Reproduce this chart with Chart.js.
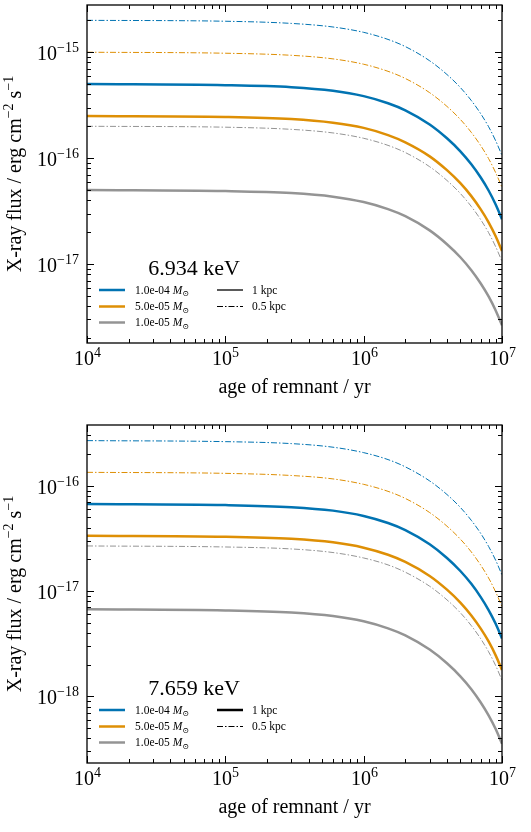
<!DOCTYPE html>
<html>
<head>
<meta charset="utf-8">
<script src="https://cdn.jsdelivr.net/npm/chart.js@4.4.0/dist/chart.umd.min.js"></script>
<style>
  body { margin: 0; background: #fff; }
  canvas { display: block; }
</style>
</head>
<body>
<canvas id="fluxTop" width="531" height="416"></canvas>
<canvas id="fluxBottom" width="531" height="416"></canvas>
<script>
// ages of the remnant (yr)
const ages = [1e4, 1e5, 3e5, 6e5, 1e6, 1.5e6, 2e6, 3e6, 4e6, 5e6, 6e6, 7e6, 8e6, 9e6, 1e7];
const massLabels = ['1.0e-04', '5.0e-05', '1.0e-05'];
const distLabels = ['1 kpc', '0.5 kpc'];
const massColors = ['#0173b2', '#de8f05', '#949494'];

// 6.934 keV line, flux in erg cm^-2 s^-1
const f6934_m1e4_1kpc  = [5.0e-16, 4.89e-16, 4.68e-16, 4.33e-16, 3.85e-16, 3.3e-16, 2.83e-16, 2.08e-16, 1.54e-16, 1.16e-16, 8.75e-17, 6.6e-17, 4.95e-17, 3.65e-17, 2.65e-17];
const f6934_m5e5_1kpc  = [2.5e-16, 2.45e-16, 2.34e-16, 2.16e-16, 1.93e-16, 1.65e-16, 1.41e-16, 1.04e-16, 7.7e-17, 5.8e-17, 4.38e-17, 3.3e-17, 2.48e-17, 1.83e-17, 1.33e-17];
const f6934_m1e5_1kpc  = [5.0e-17, 4.89e-17, 4.68e-17, 4.33e-17, 3.85e-17, 3.3e-17, 2.83e-17, 2.08e-17, 1.54e-17, 1.16e-17, 8.75e-18, 6.6e-18, 4.95e-18, 3.65e-18, 2.65e-18];
const f6934_m1e4_05kpc = [2.0e-15, 1.96e-15, 1.87e-15, 1.73e-15, 1.54e-15, 1.32e-15, 1.13e-15, 8.3e-16, 6.16e-16, 4.64e-16, 3.5e-16, 2.64e-16, 1.98e-16, 1.46e-16, 1.06e-16];
const f6934_m5e5_05kpc = [1.0e-15, 9.78e-16, 9.35e-16, 8.65e-16, 7.7e-16, 6.6e-16, 5.65e-16, 4.15e-16, 3.08e-16, 2.32e-16, 1.75e-16, 1.32e-16, 9.9e-17, 7.3e-17, 5.3e-17];
const f6934_m1e5_05kpc = [2.0e-16, 1.96e-16, 1.87e-16, 1.73e-16, 1.54e-16, 1.32e-16, 1.13e-16, 8.3e-17, 6.16e-17, 4.64e-17, 3.5e-17, 2.64e-17, 1.98e-17, 1.46e-17, 1.06e-17];

// 7.659 keV line
const f7659_m1e4_1kpc  = [6.7e-17, 6.55e-17, 6.26e-17, 5.8e-17, 5.16e-17, 4.42e-17, 3.79e-17, 2.78e-17, 2.06e-17, 1.55e-17, 1.17e-17, 8.8e-18, 6.6e-18, 4.89e-18, 3.55e-18];
const f7659_m5e5_1kpc  = [3.35e-17, 3.28e-17, 3.13e-17, 2.9e-17, 2.58e-17, 2.21e-17, 1.89e-17, 1.39e-17, 1.03e-17, 7.77e-18, 5.86e-18, 4.42e-18, 3.32e-18, 2.45e-18, 1.78e-18];
const f7659_m1e5_1kpc  = [6.7e-18, 6.55e-18, 6.26e-18, 5.8e-18, 5.16e-18, 4.42e-18, 3.79e-18, 2.78e-18, 2.06e-18, 1.55e-18, 1.17e-18, 8.8e-19, 6.6e-19, 4.89e-19, 3.55e-19];
const f7659_m1e4_05kpc = [2.68e-16, 2.62e-16, 2.51e-16, 2.32e-16, 2.06e-16, 1.77e-16, 1.51e-16, 1.11e-16, 8.25e-17, 6.22e-17, 4.69e-17, 3.54e-17, 2.65e-17, 1.96e-17, 1.42e-17];
const f7659_m5e5_05kpc = [1.34e-16, 1.31e-16, 1.25e-16, 1.16e-16, 1.03e-16, 8.84e-17, 7.57e-17, 5.56e-17, 4.13e-17, 3.11e-17, 2.35e-17, 1.77e-17, 1.33e-17, 9.8e-18, 7.1e-18];
const f7659_m1e5_05kpc = [2.68e-17, 2.62e-17, 2.51e-17, 2.32e-17, 2.06e-17, 1.77e-17, 1.51e-17, 1.11e-17, 8.25e-18, 6.22e-18, 4.69e-18, 3.54e-18, 2.65e-18, 1.96e-18, 1.42e-18];

const FONT = '"Liberation Serif", "DejaVu Serif", serif';
const DASHDOT = [6, 2, 1.5, 2];

function pts(vals) {
  return ages.map((a, i) => ({ x: a, y: vals[i] }));
}

function makeSets(solid, dashed) {
  let sets = [];
  solid.forEach((v, i) => sets.push({
    label: massLabels[i] + ' ' + distLabels[0], data: pts(v),
    borderColor: massColors[i], borderWidth: 2.5, pointRadius: 0,
    cubicInterpolationMode: 'monotone', fill: false
  }));
  dashed.forEach((v, i) => sets.push({
    label: massLabels[i] + ' ' + distLabels[1], data: pts(v),
    borderColor: massColors[i], borderWidth: 1, borderDash: DASHDOT, pointRadius: 0,
    cubicInterpolationMode: 'monotone', fill: false
  }));
  return sets;
}

// 10^n with a raised exponent
function pow10(ctx, e, x, y, align) {
  const sup = (e < 0 ? '\u2212' : '') + Math.abs(e);
  ctx.font = '20px ' + FONT;
  const w1 = ctx.measureText('10').width;
  ctx.font = '14px ' + FONT;
  const w2 = ctx.measureText(sup).width;
  const x0 = align === 'right' ? x - w1 - w2 : x - (w1 + w2) / 2;
  ctx.textAlign = 'left';
  ctx.textBaseline = 'alphabetic';
  ctx.font = '20px ' + FONT;
  ctx.fillText('10', x0, y);
  ctx.font = '14px ' + FONT;
  ctx.fillText(sup, x0 + w1, y - 8);
}

function logTicks(scale) {
  let out = [];
  const k0 = Math.floor(Math.log10(scale.min)), k1 = Math.ceil(Math.log10(scale.max));
  for (let k = k0; k <= k1; k++) {
    for (let m = 1; m < 10; m++) {
      const v = m * Math.pow(10, k);
      if (v >= scale.min * 0.9999 && v <= scale.max * 1.0001) out.push({ v: v, major: m === 1, k: k });
    }
  }
  return out;
}

const axesDecor = {
  id: 'axesDecor',
  afterDatasetsDraw(chart, args, opts) {
    const { ctx, chartArea: a, scales: { x, y } } = chart;
    ctx.save();
    ctx.fillStyle = '#000';
    ctx.strokeStyle = '#000';

    // ticks, pointing inward on all four sides
    ctx.lineWidth = 1;
    logTicks(x).forEach(t => {
      const px = Math.round(x.getPixelForValue(t.v)) + 0.5;
      const len = t.major ? 7 : 4;
      ctx.beginPath();
      ctx.moveTo(px, a.bottom); ctx.lineTo(px, a.bottom - len);
      ctx.moveTo(px, a.top); ctx.lineTo(px, a.top + len);
      ctx.stroke();
      if (t.major) pow10(ctx, t.k, px, a.bottom + 22, 'center');
    });
    logTicks(y).forEach(t => {
      const py = Math.round(y.getPixelForValue(t.v)) + 0.5;
      const len = t.major ? 7 : 4;
      ctx.beginPath();
      ctx.moveTo(a.left, py); ctx.lineTo(a.left + len, py);
      ctx.moveTo(a.right, py); ctx.lineTo(a.right - len, py);
      ctx.stroke();
      if (t.major) pow10(ctx, t.k, a.left - 8, py + 7, 'right');
    });

    ctx.lineWidth = 1.3;
    ctx.strokeRect(a.left, a.top, a.right - a.left, a.bottom - a.top);

    // axis titles
    ctx.font = '20px ' + FONT;
    ctx.textAlign = 'center';
    ctx.textBaseline = 'alphabetic';
    ctx.fillText('age of remnant / yr', (a.left + a.right) / 2, a.bottom + 50);

    const parts = [['X-ray flux / erg cm', 0], ['\u22122', 1], [' s', 0], ['\u22121', 1]];
    let total = 0;
    parts.forEach(p => { ctx.font = (p[1] ? '14px ' : '20px ') + FONT; p.push(ctx.measureText(p[0]).width); total += p[2]; });
    ctx.translate(21, (a.top + a.bottom) / 2);
    ctx.rotate(-Math.PI / 2);
    ctx.textAlign = 'left';
    let cx = -total / 2;
    parts.forEach(p => {
      ctx.font = (p[1] ? '14px ' : '20px ') + FONT;
      ctx.fillText(p[0], cx, p[1] ? -8 : 0);
      cx += p[2];
    });
    ctx.restore();

    // legend inside the axes
    ctx.save();
    ctx.fillStyle = '#000';
    ctx.font = '22px ' + FONT;
    ctx.textAlign = 'center';
    ctx.fillText(opts.energy, a.left + 107, a.bottom - 68);
    const rows = [a.bottom - 53, a.bottom - 36.5, a.bottom - 20.5];
    ctx.textAlign = 'left';
    massLabels.forEach((lab, i) => {
      ctx.strokeStyle = massColors[i];
      ctx.lineWidth = 2.5;
      ctx.setLineDash([]);
      ctx.beginPath();
      ctx.moveTo(a.left + 12, rows[i]); ctx.lineTo(a.left + 38, rows[i]);
      ctx.stroke();
      let tx = a.left + 48;
      ctx.font = '11.5px ' + FONT;
      ctx.fillText(lab + ' ', tx, rows[i] + 3.5);
      tx += ctx.measureText(lab + ' ').width;
      ctx.font = 'italic 11.5px ' + FONT;
      ctx.fillText('M', tx, rows[i] + 3.5);
      tx += ctx.measureText('M').width;
      ctx.font = '8px ' + FONT;
      ctx.fillText('\u2299', tx, rows[i] + 6);
    });
    ctx.strokeStyle = '#000';
    distLabels.forEach((lab, i) => {
      ctx.lineWidth = i === 0 ? opts.kpcWidth : 1.2;
      ctx.setLineDash(i === 0 ? [] : DASHDOT);
      ctx.beginPath();
      ctx.moveTo(a.left + 130, rows[i]); ctx.lineTo(a.left + 156, rows[i]);
      ctx.stroke();
      ctx.font = '11.5px ' + FONT;
      ctx.fillText(lab, a.left + 165, rows[i] + 3.5);
    });
    ctx.restore();
  }
};

function makeChart(id, sets, yMin, yMax, pad, energy, kpcWidth) {
  return new Chart(document.getElementById(id).getContext('2d'), {
    type: 'line',
    data: { datasets: sets },
    options: {
      responsive: false,
      animation: false,
      events: [],
      layout: { padding: pad },
      plugins: {
        legend: { display: false },
        tooltip: { enabled: false },
        axesDecor: { energy: energy, kpcWidth: kpcWidth }
      },
      scales: {
        x: { type: 'logarithmic', min: 1e4, max: 1e7, display: false },
        y: { type: 'logarithmic', min: yMin, max: yMax, display: false }
      }
    },
    plugins: [axesDecor]
  });
}

makeChart('fluxTop',
  makeSets([f6934_m1e4_1kpc, f6934_m5e5_1kpc, f6934_m1e5_1kpc], [f6934_m1e4_05kpc, f6934_m5e5_05kpc, f6934_m1e5_05kpc]),
  1.80e-18, 2.79e-15, { left: 87, right: 29, top: 5, bottom: 73 }, '6.934 keV', 1.3);

makeChart('fluxBottom',
  makeSets([f7659_m1e4_1kpc, f7659_m5e5_1kpc, f7659_m1e5_1kpc], [f7659_m1e4_05kpc, f7659_m5e5_05kpc, f7659_m1e5_05kpc]),
  2.33e-19, 3.77e-16, { left: 87, right: 29, top: 9, bottom: 69 }, '7.659 keV', 2.5);
</script>
</body>
</html>
